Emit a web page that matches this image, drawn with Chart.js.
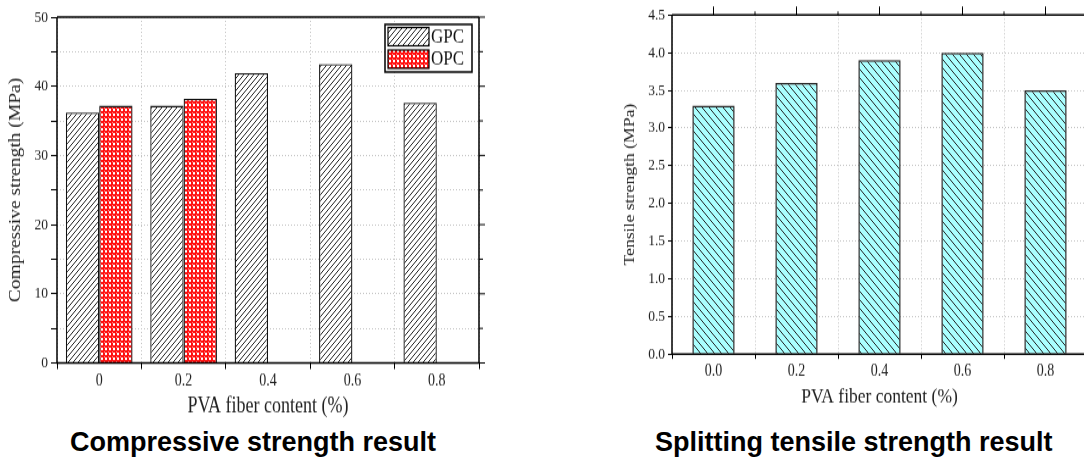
<!DOCTYPE html>
<html>
<head>
<meta charset="utf-8">
<script src="https://cdn.jsdelivr.net/npm/chart.js@4"></script>
<style>
  html, body { margin: 0; padding: 0; background: #fff; }
  body { width: 1084px; height: 457px; overflow: hidden; position: relative; }
  .wrap { position: absolute; top: 0; transform-origin: 0 0; transform: scaleY(1.22); }
  .caption {
    position: absolute; top: 427px; white-space: nowrap;
    font: bold 27px "Liberation Sans", Arial, sans-serif; line-height: 30px; color: #000;
  }
</style>
</head>
<body>
<div class="wrap" style="left:0"><canvas id="compChart" width="500" height="344"></canvas></div>
<div class="wrap" style="left:600px"><canvas id="tensChart" width="500" height="344"></canvas></div>
<div class="caption" style="left:70px">Compressive strength result</div>
<div class="caption" style="left:655px">Splitting tensile strength result</div>

<script>
const pvaLabels = ["0", "0.2", "0.4", "0.6", "0.8"];
const gpcValues = [36.2, 37.2, 41.9, 43.2, 37.6];
const opcValues = [37.2, 38.2, null, null, null];

const tensileLabels = ["0.0", "0.2", "0.4", "0.6", "0.8"];
const tensileValues = [3.3, 3.6, 3.9, 4.0, 3.5];

Chart.defaults.font.family = "'Liberation Serif', 'Times New Roman', serif";
Chart.defaults.color = "#222";
Chart.defaults.animation = false;

// fill patterns
function hatch(size, bg, fg, dir) {
  const c = document.createElement("canvas");
  c.width = size; c.height = size;
  const g = c.getContext("2d");
  g.fillStyle = bg;
  g.fillRect(0, 0, size, size);
  g.strokeStyle = fg;
  g.lineWidth = 1;
  g.beginPath();
  if (dir === "/") {
    g.moveTo(-1, size + 1); g.lineTo(size + 1, -1);
    g.moveTo(-1, 1); g.lineTo(1, -1);
    g.moveTo(size - 1, size + 1); g.lineTo(size + 1, size - 1);
  } else {
    g.moveTo(-1, -1); g.lineTo(size + 1, size + 1);
    g.moveTo(-1, size - 1); g.lineTo(1, size + 1);
    g.moveTo(size - 1, -1); g.lineTo(size + 1, 1);
  }
  g.stroke();
  return g.createPattern(c, "repeat");
}

function checker() {
  const c = document.createElement("canvas");
  c.width = 4; c.height = 4;
  const g = c.getContext("2d");
  g.fillStyle = "#ff1010";
  g.fillRect(0, 0, 4, 4);
  g.fillStyle = "#ffffff";
  g.fillRect(1, 1, 2, 2);
  g.fillStyle = "#ff9090";
  g.fillRect(0, 0, 1, 1);
  return g.createPattern(c, "repeat");
}

const gpcFill = hatch(5, "#ffffff", "#222222", "/");
const opcFill = checker();
const tensFill = hatch(7, "#aaffff", "#222222", "\\");

const framePlugin = {
  id: "frame",
  afterDatasetsDraw(chart, args, opts) {
    const { ctx } = chart;
    const { left, top, right, bottom } = chart.chartArea;
    ctx.save();
    ctx.strokeStyle = "#000";
    ctx.lineWidth = 1.5;
    ctx.beginPath();
    ctx.moveTo(left, top); ctx.lineTo(left, bottom); ctx.lineTo(right, bottom);
    ctx.moveTo(left, top); ctx.lineTo(right, top);
    if (opts.rightSide) { ctx.moveTo(right, top); ctx.lineTo(right, bottom); }
    ctx.stroke();
    ctx.lineWidth = 1;
    ctx.beginPath();
    if (opts.rightTicks) {
      const y = chart.scales.y;
      for (let v = y.min; v <= y.max; v += opts.rightTicks) {
        const p = y.getPixelForValue(v);
        const len = Math.round(v / opts.rightTicks) % 2 === 0 ? 6 : 4;
        ctx.moveTo(right, p); ctx.lineTo(right + len, p);
      }
    }
    if (opts.topTicks) {
      const x = chart.scales.x;
      const n = chart.data.labels.length;
      for (let i = 0; i < n; i++) {
        const p = x.getPixelForValue(i);
        ctx.moveTo(p, top); ctx.lineTo(p, top - 7);
        const b = p + (x.getPixelForValue(1) - x.getPixelForValue(0)) / 2;
        ctx.moveTo(b, top); ctx.lineTo(b, top - 3);
      }
    }
    ctx.stroke();
    ctx.restore();
  }
};

const legendPlugin = {
  id: "boxLegend",
  afterDraw(chart) {
    const { ctx } = chart;
    const x = 385, y = 20, w = 87, h = 39;
    ctx.save();
    ctx.fillStyle = "#fff";
    ctx.fillRect(x, y, w, h);
    ctx.strokeStyle = "#000";
    ctx.lineWidth = 1.5;
    ctx.strokeRect(x, y, w, h);
    const items = [
      { label: "GPC", fill: gpcFill, y: y + 2.5 },
      { label: "OPC", fill: opcFill, y: y + 21 }
    ];
    ctx.font = "17px 'Liberation Serif', serif";
    ctx.textBaseline = "middle";
    items.forEach(it => {
      ctx.fillStyle = it.fill;
      ctx.fillRect(x + 3, it.y, 41, 15);
      ctx.lineWidth = 1.2;
      ctx.strokeRect(x + 3, it.y, 41, 15);
      ctx.fillStyle = "#111";
      ctx.fillText(it.label, x + 46, it.y + 8);
    });
    ctx.restore();
  }
};

const gridCol = "#c4c4c4";

new Chart(document.getElementById("compChart"), {
  type: "bar",
  data: {
    labels: pvaLabels,
    datasets: [
      { label: "GPC", data: gpcValues, backgroundColor: gpcFill, borderColor: "#111", borderWidth: 1.3 },
      { label: "OPC", data: opcValues, backgroundColor: opcFill, borderColor: "#111", borderWidth: 1.3 }
    ]
  },
  options: {
    responsive: false,
    layout: { padding: { top: 14, right: 21, left: 0, bottom: 0 } },
    datasets: { bar: { categoryPercentage: 0.79, barPercentage: 1 } },
    plugins: { legend: { display: false }, tooltip: { enabled: false }, frame: { rightSide: true, rightTicks: 5 } },
    scales: {
      x: {
        afterFit(s) { s.height = 46.5; },
        grid: { offset: true, color: gridCol, tickColor: "#000", tickLength: 5 },
        border: { display: false, dash: [1, 2] },
        ticks: { font: { size: 14 }, padding: 1, color: "#222" },
        title: { display: true, text: "PVA fiber content (%)", font: { size: 18 }, padding: { top: 0, bottom: 0 }, color: "#222" }
      },
      y: {
        min: 0, max: 50,
        afterFit(s) { s.width = 57; },
        grid: { color: gridCol, tickColor: "#000", tickLength: 6 },
        border: { display: false, dash: [1, 2] },
        ticks: { stepSize: 5, font: { size: 13.5 }, padding: 3, color: "#222",
          callback: v => (v % 10 === 0 ? v : "") },
        title: { display: true, text: "Compressive strength (MPa)", font: { size: 16 }, padding: { top: 6, bottom: 0 }, color: "#222" }
      }
    }
  },
  plugins: [framePlugin, legendPlugin]
});

new Chart(document.getElementById("tensChart"), {
  type: "bar",
  data: {
    labels: tensileLabels,
    datasets: [
      { label: "Tensile strength", data: tensileValues, backgroundColor: tensFill, borderColor: "#222", borderWidth: 1.5 }
    ]
  },
  options: {
    responsive: false,
    layout: { padding: { top: 12.3, right: 13, left: 0, bottom: 0 } },
    datasets: { bar: { categoryPercentage: 0.51, barPercentage: 1 } },
    plugins: { legend: { display: false }, tooltip: { enabled: false }, frame: { rightSide: false, topTicks: true } },
    scales: {
      x: {
        afterFit(s) { s.height = 53.8; },
        grid: { offset: true, color: gridCol, tickColor: "#000", tickLength: 4 },
        border: { display: false, dash: [1, 2] },
        ticks: { font: { size: 14 }, padding: 2, color: "#222" },
        title: { display: true, text: "PVA fiber content (%)", font: { size: 17.5 }, padding: { top: 0, bottom: 8 }, color: "#222" }
      },
      y: {
        min: 0, max: 4.5,
        afterFit(s) { s.width = 72; },
        grid: { color: gridCol, tickColor: "#000", tickLength: 4 },
        border: { display: false, dash: [1, 2] },
        ticks: { stepSize: 0.25, font: { size: 13.5 }, padding: 3, color: "#222",
          callback: v => (Math.abs(v * 2 - Math.round(v * 2)) < 1e-6 ? v.toFixed(1) : "") },
        title: { display: true, text: "Tensile strength (MPa)", font: { size: 14.5 }, padding: { top: 21, bottom: 0 }, color: "#222" }
      }
    }
  },
  plugins: [framePlugin]
});
</script>
</body>
</html>
